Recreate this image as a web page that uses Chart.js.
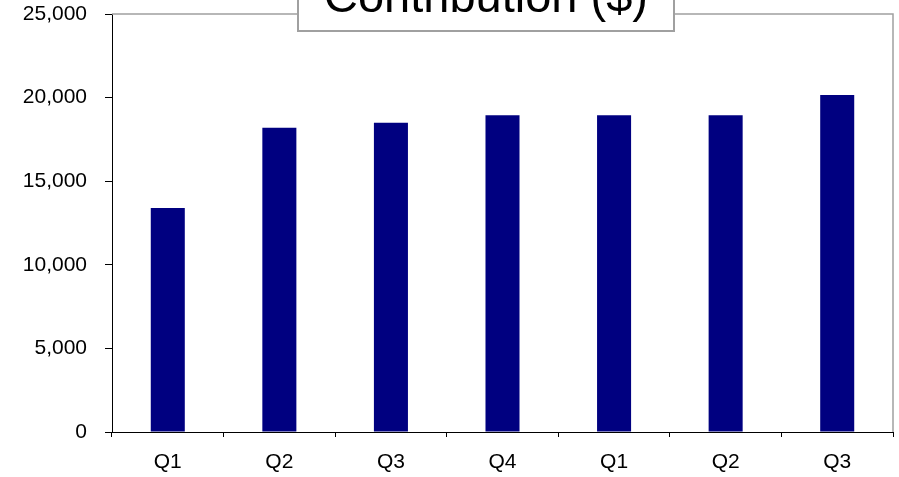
<!DOCTYPE html>
<html>
<head>
<meta charset="utf-8">
<script src="https://cdn.jsdelivr.net/npm/chart.js@4/dist/chart.umd.min.js"></script>
<style>
  html, body { margin: 0; padding: 0; background: #fff; }
  canvas { display: block; }
</style>
</head>
<body>
<canvas id="chart" width="899" height="477"></canvas>
<script>
// Quarterly contribution, in dollars
const quarters = ['Q1', 'Q2', 'Q3', 'Q4', 'Q1', 'Q2', 'Q3'];
const contribution = [13400, 18200, 18500, 18950, 18950, 18950, 20150];
const yTicks = [0, 5000, 10000, 15000, 20000, 25000];
const chartTitle = 'Contribution ($)';

// Gray frame on the top and right of the plot, plus the boxed title
const frameAndTitle = {
  id: 'frameAndTitle',
  afterDraw(chart) {
    const { ctx, chartArea: a } = chart;
    ctx.save();
    ctx.strokeStyle = '#a0a0a0';
    ctx.lineWidth = 1.5;
    ctx.beginPath();
    ctx.moveTo(a.left, a.top);
    ctx.lineTo(a.right, a.top);
    ctx.lineTo(a.right, a.bottom);
    ctx.stroke();

    // title box
    const cx = 486, boxW = 376, boxBottom = 31;
    ctx.fillStyle = '#ffffff';
    ctx.fillRect(cx - boxW / 2, -10, boxW, boxBottom + 10);
    ctx.lineWidth = 2;
    ctx.strokeStyle = '#a0a0a0';
    ctx.strokeRect(cx - boxW / 2, -10, boxW, boxBottom + 10);

    ctx.fillStyle = '#000000';
    ctx.font = '47px "Liberation Sans", Arial, sans-serif';
    ctx.textAlign = 'center';
    ctx.textBaseline = 'alphabetic';
    ctx.fillText(chartTitle, cx, 12);
    ctx.restore();
  }
};

const axisFont = { family: '"Liberation Sans", Arial, sans-serif', size: 21 };

new Chart(document.getElementById('chart'), {
  type: 'bar',
  data: {
    labels: quarters,
    datasets: [{
      data: contribution,
      backgroundColor: '#000080',
      borderWidth: 0,
      categoryPercentage: 1,
      barPercentage: 0.305
    }]
  },
  options: {
    responsive: false,
    animation: false,
    layout: { padding: { top: 14, right: 6, left: 0, bottom: 0 } },
    plugins: {
      legend: { display: false },
      tooltip: { enabled: false },
      title: { display: false }
    },
    scales: {
      x: {
        offset: true,
        grid: {
          display: true,
          offset: true,
          drawOnChartArea: false,
          drawTicks: true,
          tickLength: 5,
          color: '#000000'
        },
        border: { display: true, color: '#000000', width: 1 },
        ticks: { color: '#000000', padding: 13, font: axisFont },
        afterFit(scale) {
          scale.height = 45;
          scale.paddingLeft = 0;
          scale.paddingRight = 0;
        }
      },
      y: {
        min: 0,
        max: 25000,
        afterBuildTicks(scale) { scale.ticks = yTicks.map(v => ({ value: v })); },
        grid: {
          display: true,
          drawOnChartArea: false,
          drawTicks: true,
          tickLength: 7,
          color: '#000000'
        },
        border: { display: true, color: '#000000', width: 1 },
        ticks: {
          color: '#000000',
          padding: 18,
          font: axisFont,
          callback: v => Number(v).toLocaleString('en-US')
        },
        afterFit(scale) {
          scale.width = 112;
          scale.paddingTop = 0;
          scale.paddingBottom = 0;
        }
      }
    }
  },
  plugins: [frameAndTitle]
});
</script>
</body>
</html>
